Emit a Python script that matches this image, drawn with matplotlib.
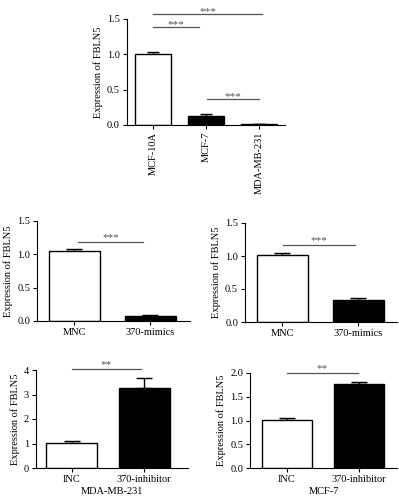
import numpy as np
import matplotlib
matplotlib.use('Agg')
import matplotlib.pyplot as plt

plt.rcParams['font.family'] = ['Liberation Serif', 'DejaVu Serif']
plt.rcParams['font.size'] = 7.5

ylabel = 'Expression of FBLN5'

# panel a: cell lines
cells = ['MCF-10A', 'MCF-7', 'MDA-MB-231']
cells_val = [1.00, 0.13, 0.01]
cells_err = [0.03, 0.03, 0.006]

# panel b/c: mimics
mim_cats = ['MNC', '370-mimics']
mim_left_val = [1.05, 0.07]
mim_left_err = [0.03, 0.02]
mim_right_val = [1.02, 0.33]
mim_right_err = [0.03, 0.03]

# panel d/e: inhibitor
inh_cats = ['INC', '370-inhibitor']
inh_left_val = [1.02, 3.27]
inh_left_err = [0.08, 0.42]
inh_right_val = [1.02, 1.77]
inh_right_err = [0.04, 0.05]

fig = plt.figure(figsize=(3.99, 5.0), dpi=100)


def bars(ax, cats, vals, errs, width, capsize):
    x = np.arange(len(cats))
    colors = ['white'] + ['black'] * (len(cats) - 1)
    ax.bar(x, vals, width=width, color=colors, edgecolor='black', linewidth=1.0, zorder=2)
    ax.errorbar(x, vals, yerr=[np.zeros(len(errs)), errs], fmt='none', ecolor='black',
                elinewidth=1.0, capsize=capsize, capthick=1.0, zorder=1)
    ax.set_xticks(x)
    ax.set_xticklabels(cats)
    ax.spines['top'].set_visible(False)
    ax.spines['right'].set_visible(False)
    ax.tick_params(direction='out', length=3, width=0.8, pad=2)
    ax.set_ylabel(ylabel, labelpad=3)


def sig(ax, x0, x1, y, txt, dy):
    ax.plot([x0, x1], [y, y], color='#555555', lw=0.9, clip_on=False)
    ax.text((x0 + x1) / 2, y + dy, txt, ha='center', va='bottom', fontsize=8,
            color='#555555', clip_on=False)


# top panel
ax1 = fig.add_axes([0.318, 0.75, 0.396, 0.212])
bars(ax1, cells, cells_val, cells_err, 0.68, 4.5)
ax1.set_xlim(-0.49, 2.48)
ax1.set_ylim(0, 1.5)
ax1.set_yticks([0, 0.5, 1.0, 1.5])
ax1.set_yticklabels(['0.0', '0.5', '1.0', '1.5'])
plt.setp(ax1.get_xticklabels(), rotation=90)
sig(ax1, 0.0, 2.05, 1.57, '***', -0.03)
sig(ax1, 0.0, 0.87, 1.39, '***', -0.03)
sig(ax1, 1.02, 2.0, 0.37, '***', -0.03)

# middle left
ax2 = fig.add_axes([0.093, 0.358, 0.383, 0.2])
bars(ax2, mim_cats, mim_left_val, mim_left_err, 0.67, 6)
ax2.set_xlim(-0.49, 1.52)
ax2.set_ylim(0, 1.5)
ax2.set_yticks([0, 0.5, 1.0, 1.5])
ax2.set_yticklabels(['0.0', '0.5', '1.0', '1.5'])
sig(ax2, 0.05, 0.9, 1.19, '***', 0.0)

# middle right
ax3 = fig.add_axes([0.614, 0.356, 0.381, 0.198])
bars(ax3, mim_cats, mim_right_val, mim_right_err, 0.67, 6)
ax3.set_xlim(-0.49, 1.51)
ax3.set_ylim(0, 1.5)
ax3.set_yticks([0, 0.5, 1.0, 1.5])
ax3.set_yticklabels(['0.0', '0.5', '1.0', '1.5'])
sig(ax3, 0.01, 0.96, 1.17, '***', 0.0)

# bottom left
ax4 = fig.add_axes([0.090, 0.064, 0.381, 0.196])
bars(ax4, inh_cats, inh_left_val, inh_left_err, 0.70, 6)
ax4.set_xlim(-0.49, 1.6)
ax4.set_ylim(0, 4)
ax4.set_yticks([0, 1, 2, 3, 4])
ax4.set_xlabel('MDA-MB-231', labelpad=2)
sig(ax4, 0.0, 0.96, 4.04, '**', 0.0)

# bottom right
ax5 = fig.add_axes([0.627, 0.064, 0.368, 0.19])
bars(ax5, inh_cats, inh_right_val, inh_right_err, 0.69, 6)
ax5.set_xlim(-0.51, 1.53)
ax5.set_ylim(0, 2)
ax5.set_yticks([0, 0.5, 1.0, 1.5, 2.0])
ax5.set_yticklabels(['0.0', '0.5', '1.0', '1.5', '2.0'])
ax5.set_xlabel('MCF-7', labelpad=2)
sig(ax5, 0.0, 0.99, 2.0, '**', 0.0)

fig.savefig('out.png', dpi=100)
